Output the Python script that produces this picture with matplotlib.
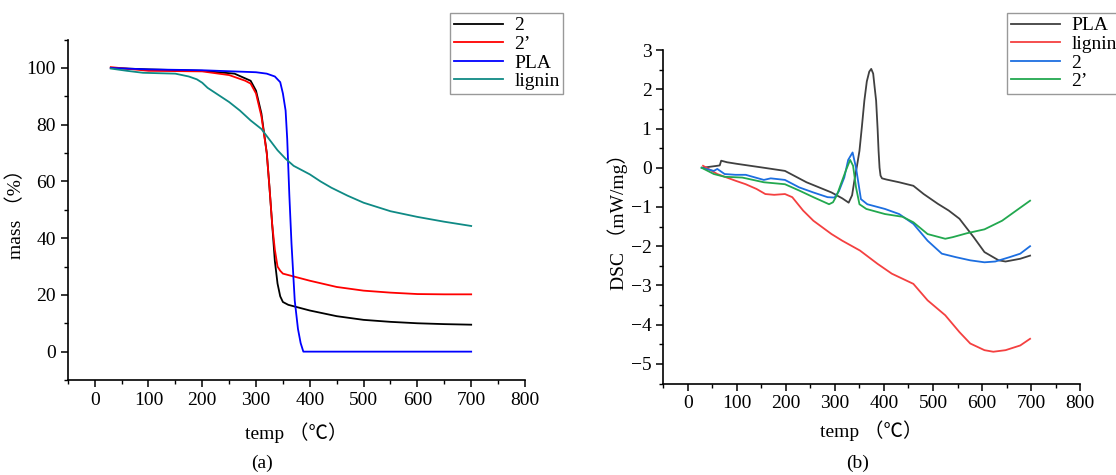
import matplotlib
matplotlib.use("Agg")
import matplotlib.pyplot as plt
from matplotlib.ticker import MultipleLocator

plt.rcParams['font.family'] = ['Liberation Serif', 'Noto Sans CJK SC', 'DejaVu Sans']
plt.rcParams['font.size'] = 14

# ---- (a) TGA data ----
t_2 = [30, 100, 200, 260, 290, 300, 310, 320, 325, 330, 335, 340, 345, 350, 360, 380,
       400, 450, 500, 550, 600, 650, 700]
m_2 = [100, 99.5, 99, 98, 95.5, 92, 84, 70, 58, 45, 32, 24, 19.5, 17.5, 16.5, 15.5,
       14.5, 12.5, 11.2, 10.5, 10, 9.7, 9.5]

t_2p = [30, 100, 200, 250, 280, 290, 300, 310, 320, 325, 330, 335, 340, 345, 350, 370,
        400, 450, 500, 550, 600, 650, 700]
m_2p = [100.3, 99, 98.8, 97.5, 95.5, 94.5, 91, 83, 70, 58, 45, 36, 30, 28.5, 27.5, 26.5,
        25, 22.8, 21.5, 20.8, 20.3, 20.2, 20.2]

t_pla = [30, 100, 200, 300, 320, 335, 345, 350, 355, 358, 362, 366, 372, 378, 383, 388, 700]
m_pla = [100, 99.5, 99.2, 98.5, 98, 97, 95, 91, 85, 75, 55, 38, 18, 8, 3, 0, 0]

t_lig = [30, 60, 90, 150, 175, 190, 200, 210, 230, 250, 270, 290, 310, 320, 340, 355,
         370, 385, 400, 420, 440, 470, 500, 550, 600, 650, 700]
m_lig = [99.8, 99, 98.3, 98, 97, 96, 94.8, 93, 90.5, 88, 85, 81.5, 78.5, 76, 71, 68,
         65.5, 64, 62.5, 60, 57.8, 55, 52.5, 49.5, 47.5, 45.8, 44.3]

# ---- (b) DSC data ----
t_dsc_pla = [30, 60, 65, 68, 80, 100, 155, 198, 242, 293, 315, 328, 335, 340, 345, 350,
             355, 360, 365, 370, 374, 378, 381, 384, 387, 389, 391, 393, 396, 405, 431,
             460, 481, 510, 532, 554, 583, 605, 634, 648, 678, 698]
d_dsc_pla = [0.0, 0.05, 0.06, 0.18, 0.14, 0.1, 0.0, -0.08, -0.37, -0.63, -0.78, -0.89,
             -0.7, -0.3, 0.05, 0.43, 1.05, 1.71, 2.2, 2.45, 2.52, 2.4, 2.05, 1.71, 1.0,
             0.43, 0.0, -0.2, -0.27, -0.3, -0.37, -0.46, -0.67, -0.92, -1.09, -1.3,
             -1.77, -2.15, -2.36, -2.39, -2.32, -2.24]

t_dsc_lig = [31, 60, 97, 118, 140, 158, 176, 198, 213, 235, 256, 293, 315, 351, 387,
             416, 460, 489, 525, 554, 576, 605, 623, 648, 678, 698]
d_dsc_lig = [0.05, -0.16, -0.33, -0.42, -0.54, -0.67, -0.69, -0.67, -0.75, -1.09, -1.35,
             -1.69, -1.86, -2.11, -2.45, -2.7, -2.96, -3.38, -3.76, -4.19, -4.48, -4.65,
             -4.69, -4.65, -4.53, -4.36]

t_dsc_2 = [28, 53, 60, 75, 97, 118, 155, 169, 198, 227, 256, 285, 299, 308, 319, 327,
           336, 343, 353, 366, 402, 431, 460, 489, 518, 547, 576, 605, 627, 656, 678, 698]
d_dsc_2 = [0.0, -0.08, -0.03, -0.16, -0.18, -0.18, -0.31, -0.27, -0.31, -0.5, -0.63,
           -0.75, -0.76, -0.6, -0.25, 0.2, 0.39, 0.0, -0.8, -0.93, -1.05, -1.18, -1.43,
           -1.86, -2.19, -2.28, -2.36, -2.41, -2.39, -2.28, -2.19, -2.0]

t_dsc_2p = [28, 53, 75, 111, 155, 198, 227, 256, 288, 296, 304, 312, 322, 331, 337,
            343, 350, 364, 402, 438, 460, 489, 525, 540, 569, 605, 641, 670, 698]
d_dsc_2p = [0.0, -0.16, -0.23, -0.25, -0.37, -0.42, -0.58, -0.75, -0.93, -0.88, -0.7,
            -0.42, -0.08, 0.2, 0.05, -0.5, -0.93, -1.05, -1.18, -1.25, -1.39, -1.69,
            -1.81, -1.77, -1.67, -1.57, -1.35, -1.09, -0.84]

fig = plt.figure(figsize=(11.16, 4.75), dpi=100)
ax1 = fig.add_axes([0.0607, 0.2, 0.4097, 0.7166])
ax2 = fig.add_axes([0.5944, 0.1926, 0.3734, 0.702])

lw = 1.3
ax1.plot(t_2, m_2, color='black', lw=lw, label='2')
ax1.plot(t_2p, m_2p, color='#ff0000', lw=lw, label='2’')
ax1.plot(t_pla, m_pla, color='#0000ff', lw=lw, label='PLA')
ax1.plot(t_lig, m_lig, color='#0f8a85', lw=lw, label='lignin')

ax2.plot(t_dsc_pla, d_dsc_pla, color='#404040', lw=lw, label='PLA')
ax2.plot(t_dsc_lig, d_dsc_lig, color='#f44040', lw=lw, label='lignin')
ax2.plot(t_dsc_2, d_dsc_2, color='#1c6ee0', lw=lw, label='2')
ax2.plot(t_dsc_2p, d_dsc_2p, color='#22a84f', lw=lw, label='2’')

ax1.set_xlim(-50, 800)
ax1.set_ylim(-10, 110)
ax1.xaxis.set_major_locator(MultipleLocator(100))
ax1.xaxis.set_minor_locator(MultipleLocator(50))
ax1.yaxis.set_major_locator(MultipleLocator(20))
ax1.yaxis.set_minor_locator(MultipleLocator(10))
ax1.set_xlabel('temp （℃）', labelpad=10)
ax1.set_ylabel('mass （%）', labelpad=1)

ax2.set_xlim(-50, 800)
ax2.set_ylim(-5.5, 3)
ax2.xaxis.set_major_locator(MultipleLocator(100))
ax2.xaxis.set_minor_locator(MultipleLocator(50))
ax2.yaxis.set_major_locator(MultipleLocator(1))
ax2.yaxis.set_minor_locator(MultipleLocator(0.5))
ax2.set_xlabel('temp （℃）', labelpad=6)
ax2.set_ylabel('DSC （mW/mg）', labelpad=2)

for ax in (ax1, ax2):
    ax.spines['top'].set_visible(False)
    ax.spines['right'].set_visible(False)
    ax.spines['left'].set_linewidth(1.2)
    ax.spines['bottom'].set_linewidth(1.2)
    ax.tick_params(which='major', direction='out', length=5, width=1.1, labelsize=14)
    ax.tick_params(which='minor', direction='out', length=3, width=1.0)

leg_kw = dict(frameon=True, fancybox=False, edgecolor='#808080', fontsize=14,
              handlelength=2.5, borderpad=0.2, labelspacing=0.05, handletextpad=0.6,
              borderaxespad=0)
l1 = fig.legend(*ax1.get_legend_handles_labels(), loc='upper left',
                bbox_to_anchor=(450 / 1116, 1 - 13 / 475), **leg_kw)
l2 = fig.legend(*ax2.get_legend_handles_labels(), loc='upper left',
                bbox_to_anchor=(1007 / 1116, 1 - 13 / 475), **leg_kw)
for l in (l1, l2):
    l.get_frame().set_linewidth(1.0)

fig.text(262 / 1116, 1 - 463 / 475, '(a)', ha='center', va='center', fontsize=14)
fig.text(858 / 1116, 1 - 463 / 475, '(b)', ha='center', va='center', fontsize=14)

fig.savefig('out.png', dpi=100)
